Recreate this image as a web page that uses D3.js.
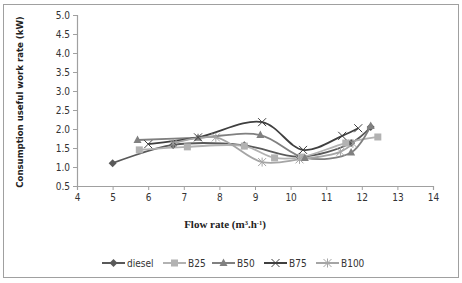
<!DOCTYPE html>
<html>
<head>
<meta charset="utf-8">
<script src="https://cdn.jsdelivr.net/npm/d3@7"></script>
<style>
  body { margin: 0; background: #fff; }
  svg { display: block; }
</style>
</head>
<body>
<svg id="chart" width="462" height="283"></svg>
<script>
const xTicks = [4, 5, 6, 7, 8, 9, 10, 11, 12, 13, 14];
const yTicks = [0.5, 1.0, 1.5, 2.0, 2.5, 3.0, 3.5, 4.0, 4.5, 5.0];

const diesel = [[5, 1.1], [6.7, 1.58], [8.7, 1.57], [10.25, 1.27], [11.7, 1.63], [12.25, 2.05]];
const b25 = [[5.75, 1.45], [7.1, 1.53], [8.7, 1.55], [9.55, 1.24], [10.3, 1.26], [11.55, 1.63], [12.45, 1.79]];
const b50 = [[5.7, 1.71], [7.4, 1.77], [9.15, 1.84], [10.4, 1.24], [11.7, 1.38], [12.25, 2.08]];
const b75 = [[6.0, 1.6], [7.4, 1.78], [9.2, 2.18], [10.35, 1.45], [11.45, 1.82], [11.9, 2.02]];
const b100 = [[6.7, 1.62], [7.9, 1.78], [9.2, 1.13], [10.25, 1.2], [11.4, 1.4], [11.75, 1.62]];

const series = [
    { name: "diesel", data: diesel, color: "#595959", marker: "diamond" },
    { name: "B25", data: b25, color: "#b2b2b2", marker: "square" },
    { name: "B50", data: b50, color: "#808080", marker: "triangle" },
    { name: "B75", data: b75, color: "#3f3f3f", marker: "x" },
    { name: "B100", data: b100, color: "#a5a5a5", marker: "star" }
];

const svg = d3.select("#chart");
const margin = { top: 15, left: 77, right: 29, bottom: 97 };
const width = 462 - margin.left - margin.right;
const height = 283 - margin.top - margin.bottom;

// outer frame
svg.append("rect")
    .attr("x", 3.5).attr("y", 4.5)
    .attr("width", 455).attr("height", 273)
    .attr("fill", "#fff")
    .attr("stroke", "#a0a0a0");

const g = svg.append("g").attr("transform", `translate(${margin.left},${margin.top})`);

const x = d3.scaleLinear().domain([4, 14]).range([0, width]);
const y = d3.scaleLinear().domain([0.5, 5]).range([height, 0]);

const axisColor = "#a0a0a0";
const labelFont = "'DejaVu Sans Condensed', 'DejaVu Sans', sans-serif";

const yAxis = g.append("g")
    .call(d3.axisLeft(y).tickValues(yTicks).tickFormat(d3.format(".1f")).tickSize(4).tickPadding(3));
const xAxis = g.append("g")
    .attr("transform", `translate(0,${height})`)
    .call(d3.axisBottom(x).tickValues(xTicks).tickFormat(d3.format("d")).tickSize(4).tickPadding(4));

[yAxis, xAxis].forEach(a => {
    a.select(".domain").attr("stroke", axisColor).attr("stroke-width", 1.2);
    a.selectAll(".tick line").attr("stroke", axisColor);
    a.selectAll(".tick text")
        .attr("fill", "#333")
        .style("font-family", labelFont)
        .style("font-size", "10px");
});

// markers
function drawMarker(sel, type, color) {
    if (type === "diamond") {
        sel.append("path").attr("d", "M0,-4L4,0L0,4L-4,0Z").attr("fill", color);
    } else if (type === "square") {
        sel.append("rect").attr("x", -3.5).attr("y", -3.5).attr("width", 7).attr("height", 7).attr("fill", color);
    } else if (type === "triangle") {
        sel.append("path").attr("d", "M0,-4.5L4,3L-4,3Z").attr("fill", color);
    } else if (type === "x") {
        sel.append("path").attr("d", "M-4,-4L4,4M-4,4L4,-4").attr("stroke", color).attr("stroke-width", 1);
    } else if (type === "star") {
        sel.append("path").attr("d", "M-4,-4L4,4M-4,4L4,-4M0,-4.5L0,4.5").attr("stroke", color).attr("stroke-width", 1);
    }
}

const line = d3.line()
    .x(d => x(d[0]))
    .y(d => y(d[1]))
    .curve(d3.curveCatmullRom.alpha(0.5));

series.forEach(s => {
    g.append("path")
        .datum(s.data)
        .attr("fill", "none")
        .attr("stroke", s.color)
        .attr("stroke-width", 1.8)
        .attr("d", line);
});
series.forEach(s => {
    g.selectAll(null)
        .data(s.data)
        .enter()
        .append("g")
        .attr("transform", d => `translate(${x(d[0])},${y(d[1])})`)
        .each(function () { drawMarker(d3.select(this), s.marker, s.color); });
});

// axis titles
svg.append("text")
    .attr("transform", `translate(23,102) rotate(-90)`)
    .attr("text-anchor", "middle")
    .style("font-family", labelFont)
    .style("font-size", "9.5px")
    .style("font-weight", "bold")
    .attr("fill", "#222")
    .text("Consumption useful work rate  (kW)");

const xt = svg.append("text")
    .attr("x", 225).attr("y", 228)
    .attr("text-anchor", "middle")
    .style("font-family", "'Liberation Serif', serif")
    .style("font-size", "11px")
    .style("font-weight", "bold")
    .attr("fill", "#222");
xt.append("tspan").text("Flow rate (m");
xt.append("tspan").attr("dy", -3).style("font-size", "6.5px").text("3");
xt.append("tspan").attr("dy", 3).text(".h");
xt.append("tspan").attr("dy", -3).style("font-size", "6.5px").text("-1");
xt.append("tspan").attr("dy", 3).text(")");

// legend
const legendX = [102, 163, 212, 264, 316];
const legend = svg.append("g").attr("transform", "translate(0,263)");
series.forEach((s, i) => {
    const lg = legend.append("g").attr("transform", `translate(${legendX[i]},0)`);
    lg.append("line").attr("x1", 0).attr("x2", 23).attr("y1", 0).attr("y2", 0)
        .attr("stroke", s.color).attr("stroke-width", 2);
    const m = lg.append("g").attr("transform", "translate(11.5,0)");
    drawMarker(m, s.marker, s.color);
    lg.append("text")
        .attr("x", 25).attr("y", 3.5)
        .style("font-family", labelFont)
        .style("font-size", "10px")
        .attr("fill", "#333")
        .text(s.name);
});
</script>
</body>
</html>
